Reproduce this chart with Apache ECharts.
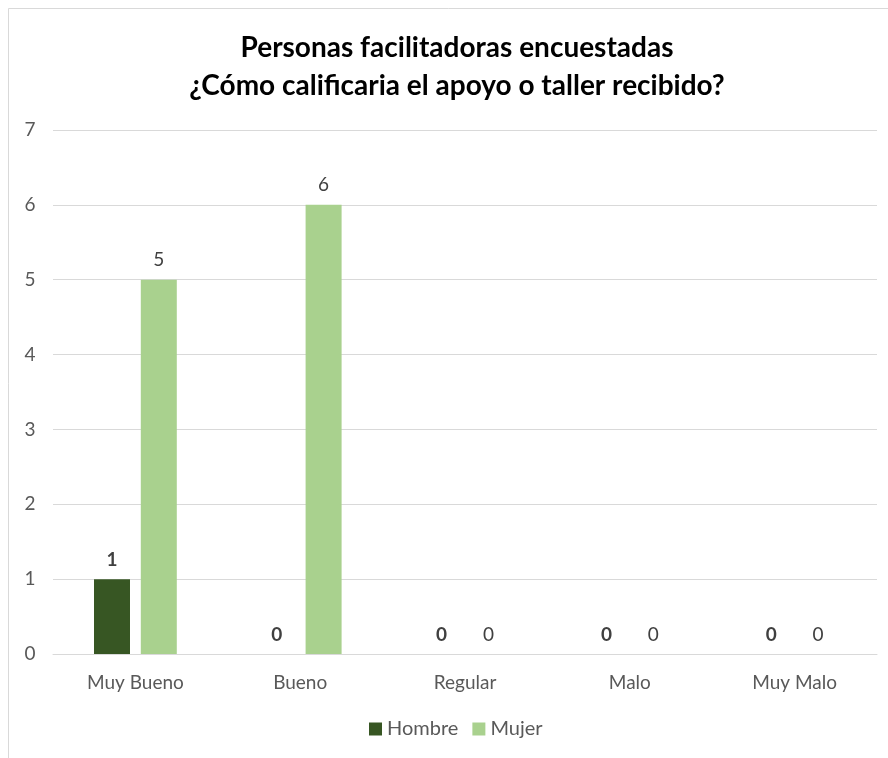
<!DOCTYPE html>
<html>
<head>
<meta charset="utf-8">
<script src="https://cdn.jsdelivr.net/npm/echarts@6/dist/echarts.min.js"></script>
<style>
html,body{margin:0;padding:0;background:#fff;}
#main{width:888px;height:758px;}
</style>
</head>
<body>
<div id="main"></div>
<script>
const titleLines = ['Personas facilitadoras encuestadas', '¿Cómo calificaria el apoyo o taller recibido?'];
const categories = ['Muy Bueno', 'Bueno', 'Regular', 'Malo', 'Muy Malo'];
const seriesNames = ['Hombre', 'Mujer'];
const hombre = [1, 0, 0, 0, 0];
const mujer = [5, 6, 0, 0, 0];
const yTicks = [0, 1, 2, 3, 4, 5, 6, 7];

const FONT = 'Lato, "Open Sans", sans-serif';
const chart = echarts.init(document.getElementById('main'), null, {renderer: 'canvas'});
chart.setOption({
  backgroundColor: '#fff',
  animation: false,
  title: {
    text: titleLines.join('\n'),
    left: 452, top: 24, textAlign: 'center',
    textStyle: {fontFamily: FONT, fontSize: 28, fontWeight: 'bold', color: '#000', lineHeight: 38}
  },
  legend: {
    data: seriesNames,
    bottom: 14, left: 364,
    itemWidth: 13, itemHeight: 13, itemGap: 14,
    icon: 'rect',
    textStyle: {fontFamily: FONT, fontSize: 20, color: '#595959', padding: [0, 0, 0, 0]}
  },
  grid: {left: 53, right: 11, top: 130, bottom: 104, containLabel: false},
  xAxis: {
    type: 'category', data: categories,
    axisLine: {lineStyle: {color: '#d9d9d9', width: 1}},
    axisTick: {show: false},
    axisLabel: {fontFamily: FONT, fontSize: 19, color: '#595959', margin: 19}
  },
  yAxis: {
    type: 'value', min: yTicks[0], max: yTicks[yTicks.length - 1], interval: 1,
    axisLine: {show: false}, axisTick: {show: false},
    splitLine: {lineStyle: {color: '#d9d9d9', width: 1}},
    axisLabel: {fontFamily: FONT, fontSize: 19, color: '#595959', margin: 23, align: 'center'}
  },
  graphic: [
    {type: 'polyline', shape: {points: [[8.5, 758], [8.5, 8.5], [888, 8.5]]}, style: {stroke: '#d9d9d9', lineWidth: 1, fill: null}, silent: true}
  ],
  series: [
    {
      name: seriesNames[0], type: 'bar', data: hombre,
      barWidth: 36, barGap: '30%',
      itemStyle: {color: '#375623'},
      label: {show: true, position: 'top', distance: 10, fontFamily: FONT, fontSize: 19, fontWeight: 'bold', color: '#404040'}
    },
    {
      name: seriesNames[1], type: 'bar', data: mujer,
      barWidth: 36,
      itemStyle: {color: '#a9d18e'},
      label: {show: true, position: 'top', distance: 10, fontFamily: FONT, fontSize: 19, color: '#404040'}
    }
  ]
});
</script>
</body>
</html>
